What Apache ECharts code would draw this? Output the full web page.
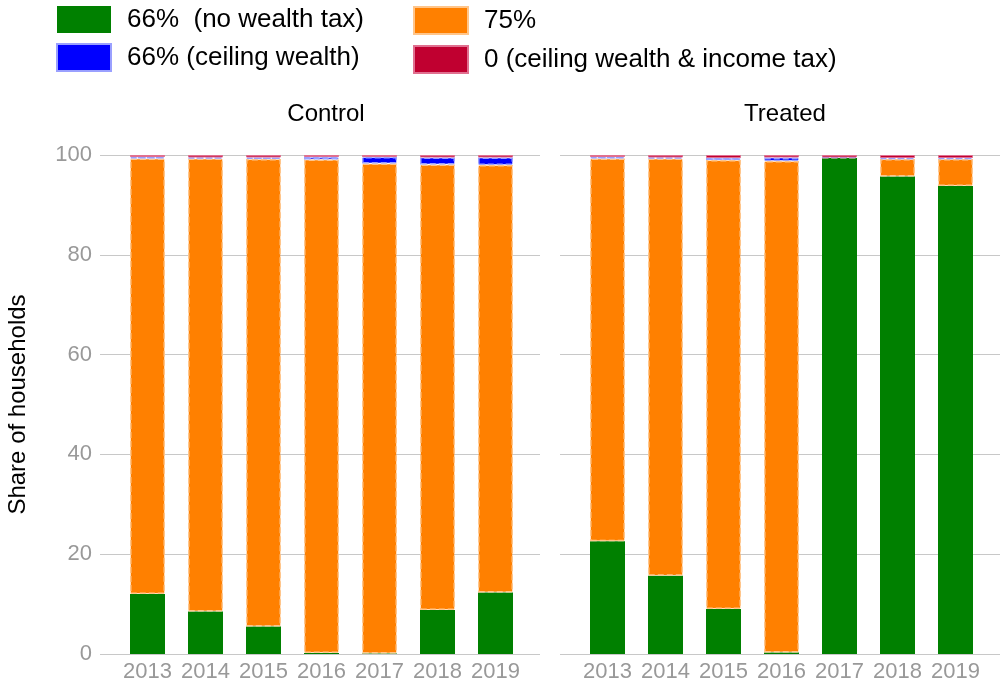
<!DOCTYPE html>
<html><head><meta charset="utf-8">
<script src="https://cdn.jsdelivr.net/npm/echarts@6/dist/echarts.min.js"></script>
<style>html,body{margin:0;padding:0;background:#fff}#c{width:1000px;height:686px}</style>
</head><body><div id="c"></div>
<script>
const years = ['2013','2014','2015','2016','2017','2018','2019'];
const panelTitles = ['Control','Treated'];
const seriesNames = ['66%  (no wealth tax)','75%','66% (ceiling wealth)','0 (ceiling wealth & income tax)'];
const yTicks = [0,20,40,60,80,100];
const controlNoWealth = [12.0, 8.5, 5.5, 0.2, 0.1, 8.8, 12.3];
const control75       = [87.3, 90.8, 93.7, 98.9, 98.2, 89.3, 85.7];
const controlCeiling  = [0.3, 0.2, 0.3, 0.5, 1.3, 1.4, 1.5];
const controlZero     = [0.4, 0.5, 0.5, 0.4, 0.4, 0.5, 0.5];
const treatedNoWealth = [22.6, 15.7, 9.0, 0.3, 99.4, 95.7, 93.8];
const treated75       = [76.7, 83.6, 90.0, 98.5, 0.1, 3.5, 5.4];
const treatedCeiling  = [0.3, 0.2, 0.4, 0.7, 0.0, 0.2, 0.2];
const treatedZero     = [0.4, 0.5, 0.6, 0.5, 0.5, 0.6, 0.6];

const FONT = 'Liberation Sans, Arial, sans-serif';
const styles = [
  {color:'#008000', borderWidth:0},
  {color:'#FF8000', borderColor:'#ffc58a', borderWidth:1.5, borderType:'dashed'},
  {color:'#0000FF', borderColor:'#9aa0ff', borderWidth:1.5, borderType:'dashed'},
  {color:'#C00030', borderColor:'#e07090', borderWidth:1}
];
const panels = [
  [controlNoWealth, control75, controlCeiling, controlZero],
  [treatedNoWealth, treated75, treatedCeiling, treatedZero]
];
const chart = echarts.init(document.getElementById('c'), null, {renderer:'canvas'});
const grids = [
  {left:100, width:440, top:155, height:499},
  {left:560, width:440, top:155, height:499},
  {left:118.5, width:406, top:155, height:499},
  {left:578.5, width:406, top:155, height:499}
];
const xAxes = [], yAxes = [];
for (let i=0;i<4;i++){
  const bars = i>=2;
  xAxes.push({type:'category', gridIndex:i, data:years, show:bars,
    axisLine:{show:false}, axisTick:{show:false},
    axisLabel:{color:'#999999', fontSize:22, fontFamily:FONT, margin:7, interval:0}});
  yAxes.push({type:'value', gridIndex:i, min:yTicks[0], max:yTicks[yTicks.length-1], interval:20,
    axisLine:{show:false}, axisTick:{show:false},
    axisLabel:{show:i===0, color:'#999999', fontSize:22, fontFamily:FONT, margin:8},
    splitLine:{show:!bars, lineStyle:{color:'#c8c8c8', width:1}}});
}
yAxes[0].name = 'Share of households';
yAxes[0].nameLocation = 'middle';
yAxes[0].nameGap = 70;
yAxes[0].nameTextStyle = {color:'#000', fontSize:24, fontFamily:FONT};

const series = [];
panels.forEach((p, pi) => {
  p.forEach((arr, si) => {
    series.push({type:'bar', name:seriesNames[si], xAxisIndex:pi+2, yAxisIndex:pi+2,
      stack:'s'+pi, barWidth:35, data:arr, itemStyle:styles[si], z:2+si});
  });
});
const legendText = {fontSize:26, color:'#000', fontFamily:FONT, padding:[0,0,0,11]};
chart.setOption({
  animation:false,
  textStyle:{fontFamily:FONT},
  title:[
    {text:panelTitles[0], left:321, top:97, textAlign:'center', textStyle:{fontSize:24, fontWeight:'normal', color:'#000', fontFamily:FONT}},
    {text:panelTitles[1], left:780, top:97, textAlign:'center', textStyle:{fontSize:24, fontWeight:'normal', color:'#000', fontFamily:FONT}}
  ],
  legend:[
    {data:[seriesNames[0], seriesNames[2]], orient:'vertical', left:56, top:6, padding:0, itemWidth:54, itemHeight:27, itemGap:10,
     textStyle:legendText, icon:'rect'},
    {data:[seriesNames[1], seriesNames[3]], orient:'vertical', left:413, top:6, padding:0, itemWidth:54, itemHeight:27, itemGap:10,
     textStyle:legendText, icon:'rect'}
  ],
  grid:grids, xAxis:xAxes, yAxis:yAxes, series:series
});
</script></body></html>
